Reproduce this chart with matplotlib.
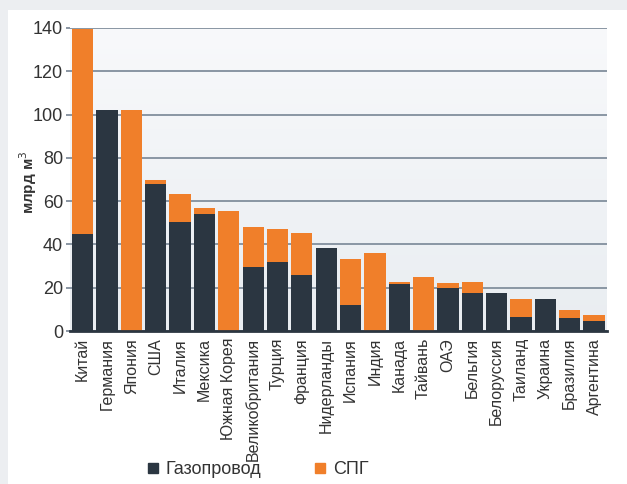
import matplotlib
matplotlib.use("Agg")
import matplotlib.pyplot as plt
import numpy as np
from matplotlib.lines import Line2D
from matplotlib.patches import Rectangle

countries = ["Китай", "Германия", "Япония", "США", "Италия", "Мексика", "Южная Корея",
             "Великобритания", "Турция", "Франция", "Нидерланды", "Испания", "Индия",
             "Канада", "Тайвань", "ОАЭ", "Бельгия", "Белоруссия", "Таиланд", "Украина",
             "Бразилия", "Аргентина"]
pipeline = [45, 102, 0, 68, 50.5, 54, 0, 29.7, 31.8, 25.8, 38.5, 12, 0,
            21.6, 0, 20, 17.4, 17.7, 6.6, 14.9, 6.1, 4.8]
lng = [94.7, 0, 102, 1.8, 12.7, 3, 55.4, 18.5, 15.1, 19.7, 0, 21.3, 35.9,
       1.2, 24.8, 2, 5.4, 0, 8, 0, 3.6, 2.6]
yticks = [0, 20, 40, 60, 80, 100, 120, 140]
legend_labels = ["Газопровод", "СПГ"]

dark = "#2b3641"
orange = "#f07f2a"
grid_c = "#8a96a3"

plt.rcParams['font.family'] = ['Liberation Sans', 'DejaVu Sans']

fig = plt.figure(figsize=(6.27, 4.84), dpi=100, facecolor="#eceef1")
fig.patches.append(Rectangle((8/627, 0), 1, 1 - 10/484, transform=fig.transFigure,
                             facecolor="white", edgecolor="none", zorder=-10))

ax = fig.add_axes([70/627, 1 - 331/484, (607 - 70)/627, (331 - 28)/484])
ax.set_facecolor("none")
grad = np.linspace(0, 1, 256).reshape(-1, 1)
ax.imshow(grad, extent=[0, 1, 0, 1], transform=ax.transAxes, aspect="auto",
          cmap=matplotlib.colors.LinearSegmentedColormap.from_list("g", ["#f8f9fb", "#e9edf1"]),
          zorder=-5)

x = np.arange(len(countries))
ax.bar(x, pipeline, width=0.87, color=dark, zorder=3, edgecolor="none")
ax.bar(x, lng, width=0.87, bottom=pipeline, color=orange, zorder=3, edgecolor="none")

ax.set_xlim(-0.52, len(countries) - 0.47)
ax.set_ylim(0, 140)
ax.set_yticks(yticks)
ax.yaxis.grid(True, color=grid_c, linewidth=1.4, zorder=1)
ax.set_axisbelow(True)
for s in ["top", "right", "left"]:
    ax.spines[s].set_visible(False)
ax.spines["bottom"].set_color(dark)
ax.spines["bottom"].set_linewidth(2)
ax.spines["bottom"].set_zorder(4)
ax.tick_params(axis="y", length=3, color=grid_c, width=1.4, labelsize=13, labelcolor="#333333", pad=2)
ax.tick_params(axis="x", length=0, pad=5)
ax.set_xticks(x)
ax.set_xticklabels(countries, rotation=90, fontsize=11.5, color="#333333", va="top", ha="center")
ax.set_ylabel("млрд м$^3$", fontsize=11, fontweight="bold", color="#333333")
ax.yaxis.set_label_coords(-0.078, 0.49)
ax.yaxis.label.set_verticalalignment("center")

handles = [Line2D([], [], marker="s", linestyle="none", color=dark, markersize=7),
           Line2D([], [], marker="s", linestyle="none", color=orange, markersize=7)]
fig.legend(handles, legend_labels, loc="center", bbox_to_anchor=(0.41, 1 - 470/484), ncol=2,
           frameon=False, fontsize=13, columnspacing=2.9, handletextpad=0.3, handlelength=0.8,
           labelcolor="#333333")

fig.savefig("out.png", dpi=100, facecolor=fig.get_facecolor())
